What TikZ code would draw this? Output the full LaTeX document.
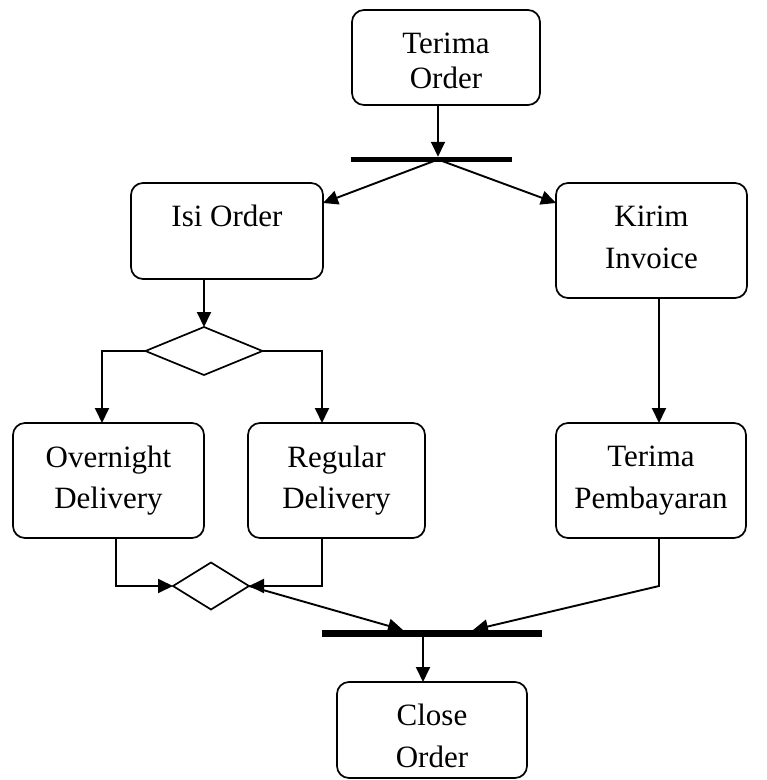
\documentclass[tikz,border=0pt]{standalone}
\usepackage{fontspec}
\setmainfont{Liberation Serif}
\usetikzlibrary{shapes.geometric,arrows.meta}
\begin{document}
\begin{tikzpicture}[x=1pt,y=-1pt,
  box/.style={draw, rounded corners=12pt, line width=1.7pt, inner sep=0pt, outer sep=0pt},
  lbl/.style={anchor=base, font=\fontsize{31}{35}\selectfont, inner sep=0pt},
  dia/.style={draw, diamond, line width=1.7pt, inner sep=0pt, outer sep=0pt},
  bar/.style={fill=black, inner sep=0pt, outer sep=0pt},
  arr/.style={line width=1.9pt, -{Triangle[length=15pt,width=14pt]}}]
\useasboundingbox (0,0) rectangle (767,780);

% boxes
\node[box, minimum width=188pt, minimum height=95pt] (tOrder) at (446,57.5) {};
\node[box, minimum width=192pt, minimum height=96pt] (isi) at (227,231) {};
\node[box, minimum width=191pt, minimum height=115pt] (kirim) at (651.5,240.5) {};
\node[box, minimum width=191pt, minimum height=115pt] (over) at (108.5,480.5) {};
\node[box, minimum width=177pt, minimum height=115pt] (reg) at (336.5,480.5) {};
\node[box, minimum width=190pt, minimum height=115pt] (pemb) at (651,480.5) {};
\node[box, minimum width=190pt, minimum height=96pt] (close) at (432,730) {};

% labels
\node[lbl] (t1a) at (446,53) {Terima};
\node[lbl] (t1b) at (446,88) {Order};
\node[lbl] (t2) at (227,226) {Isi Order};
\node[lbl] (t3a) at (651.5,226) {Kirim};
\node[lbl] (t3b) at (651.5,268) {Invoice};
\node[lbl] (t4a) at (108.5,467) {Overnight};
\node[lbl] (t4b) at (108.5,508) {Delivery};
\node[lbl] (t5a) at (336.5,467) {Regular};
\node[lbl] (t5b) at (336.5,508) {Delivery};
\node[lbl] (t6a) at (651,466) {Terima};
\node[lbl] (t6b) at (651,508) {Pembayaran};
\node[lbl] (t7a) at (432,725) {Close};
\node[lbl] (t7b) at (432,767) {Order};

% bars and diamonds
\node[bar, minimum width=161pt, minimum height=5.5pt] (bar1) at (431.5,159.5) {};
\node[bar, minimum width=220pt, minimum height=7pt] (bar2) at (432,633.5) {};
\node[dia, minimum width=117pt, minimum height=48pt] (d1) at (204,351) {};
\node[dia, minimum width=76pt, minimum height=47pt] (d2) at (211,586) {};

\coordinate (j1) at (438,159.5);

% connectors
\draw[arr] (j1 |- tOrder.south) -- (j1 |- bar1.north);
\draw[arr] (j1) -- (isi.east |- 0,203);
\draw[arr] (j1) -- (kirim.west |- 0,203);
\draw[arr] (isi.south -| d1.north) -- (d1.north);
\draw[arr] (d1.west) -| (102,0 |- over.north);
\draw[arr] (d1.east) -| (322,0 |- reg.north);
\draw[arr] (kirim.south -| 659,0) -- (659,0 |- pemb.north);
\draw[arr] (over.south -| 116,0) |- (d2.west);
\draw[arr] (reg.south -| 322,0) |- (d2.east);
\draw[arr] (d2.east) -- (403,0 |- bar2.north);
\draw[arr] (pemb.south -| 659,0) -- (659,0 |- d2.east) -- (473,0 |- bar2.north);
\draw[arr] (423,0 |- bar2.south) -- (423,0 |- close.north);
\end{tikzpicture}
\end{document}
